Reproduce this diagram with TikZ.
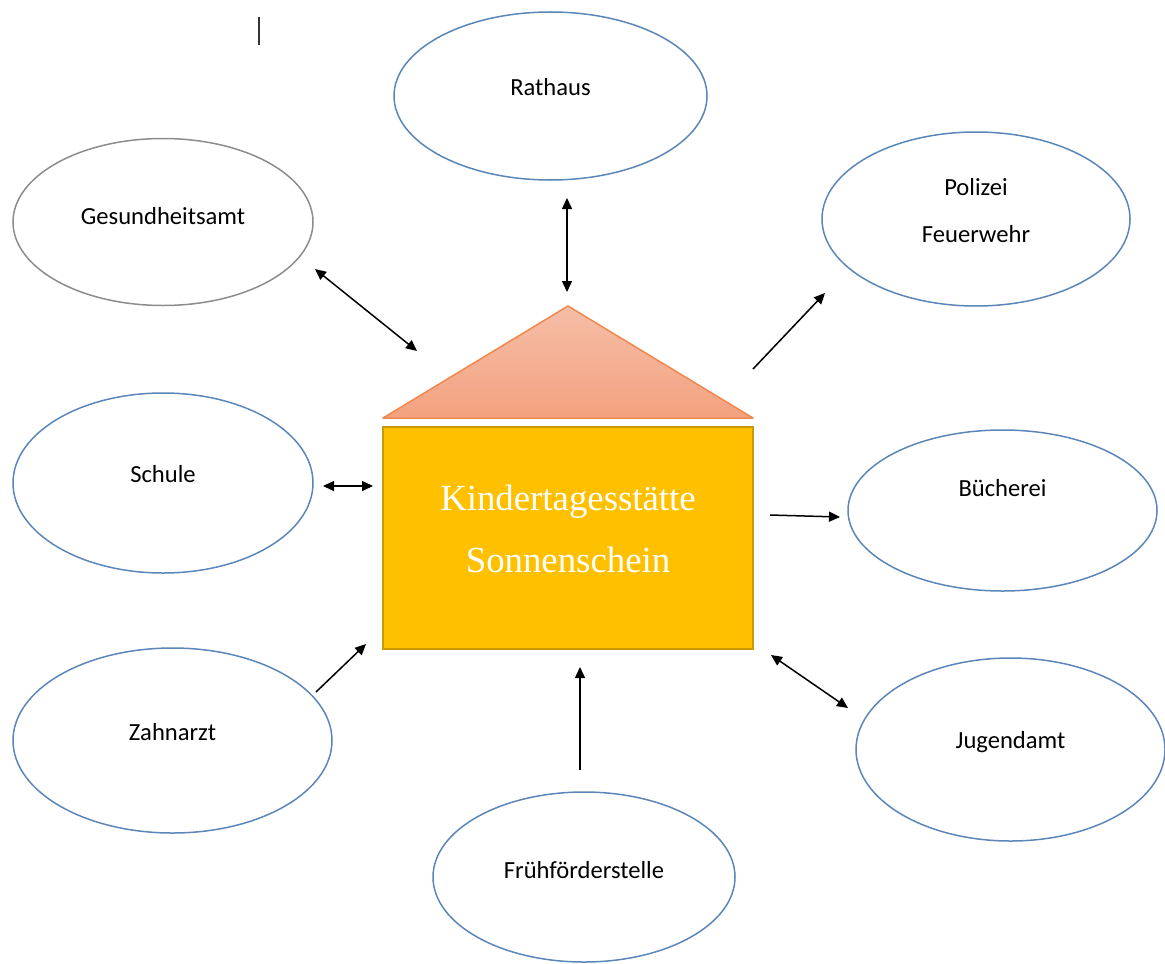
\documentclass[tikz,border=0pt]{standalone}
\usepackage{fontspec}
\usetikzlibrary{calc, positioning}
\usetikzlibrary{arrows.meta}
\usetikzlibrary{shapes.geometric}
\newfontfamily\placefont{Carlito}
\newfontfamily\kitafont{Liberation Serif}
\definecolor{placeblue}{HTML}{5B86B9}
\definecolor{placegray}{HTML}{8C8C8C}
\definecolor{kitafill}{HTML}{FFC000}
\definecolor{kitaline}{HTML}{C99A06}
\definecolor{roofhigh}{HTML}{F5BEA6}
\definecolor{rooflow}{HTML}{F4A280}
\definecolor{roofline}{HTML}{F0884E}
\tikzset{
    place/.style n args = {2}{
        ellipse, draw=placeblue, line width=0.75pt, minimum width=#1, minimum height=#2, inner sep=0pt
    },
    placetext/.style = {
        font=\placefont\fontsize{12.3}{23.5}\selectfont, align=center, inner sep=0pt
    },
    kitabox/.style = {
        rectangle, fill=kitafill, draw=kitaline, line width=0.6pt, minimum width=185pt, minimum height=111pt, inner sep=0pt
    },
    kitatext/.style = {
        font=\kitafont\fontsize{18.4}{31}\selectfont, text=white, align=center, inner sep=0pt
    },
    link/.style = {line width=0.75pt, draw=black}
}

\begin{document}
\begin{tikzpicture}[x=0.5pt, y=-0.5pt, >={Triangle[length=5.5pt,width=5pt]}]
    \useasboundingbox (0,0) rectangle (1165,963);
    % the house
    \coordinate (roof-l) at (383,418);
    \coordinate (roof-t) at (568,306);
    \coordinate (roof-r) at (753,418);
    \shadedraw[top color=roofhigh, bottom color=rooflow, draw=roofline, line width=0.75pt, line join=round]
        (roof-l) -- (roof-t) -- (roof-r) -- cycle;
    \node[kitabox] (kita) at (568,538) {};
    \node[kitatext] (kita-name) at ([yshift=4.75pt]kita.center) {Kindertagesstätte\\Sonnenschein};

    % the places around it
    \node[place={156.5pt}{84pt}] (rathaus) at (550.5,96) {};
    \node[placetext] (rathaus-text) at ([yshift=4.5pt]rathaus.center) {Rathaus};
    \node[place={150pt}{83.5pt}, draw=placegray] (gesund) at (163,222) {};
    \node[placetext] (gesund-text) at ([yshift=3pt]gesund.center) {Gesundheitsamt};
    \node[place={154pt}{87pt}] (polizei) at (976,219) {};
    \node[placetext] (polizei-text) at ([yshift=4pt]polizei.center) {Polizei\\Feuerwehr};
    \node[place={150pt}{90pt}] (schule) at (163,483) {};
    \node[placetext] (schule-text) at ([yshift=4.5pt]schule.center) {Schule};
    \node[place={154.5pt}{80.5pt}] (buecherei) at (1002.5,510.5) {};
    \node[placetext] (buecherei-text) at ([yshift=11pt]buecherei.center) {Bücherei};
    \node[place={159.5pt}{92.5pt}] (zahnarzt) at (172.5,740.5) {};
    \node[placetext] (zahnarzt-text) at ([yshift=4pt]zahnarzt.center) {Zahnarzt};
    \node[place={154.5pt}{91.5pt}] (jugendamt) at (1010.5,749.5) {};
    \node[placetext] (jugendamt-text) at ([yshift=3.5pt]jugendamt.center) {Jugendamt};
    \node[place={151pt}{85pt}] (frueh) at (584,877) {};
    \node[placetext] (frueh-text) at ([yshift=3.5pt]frueh.center) {Frühförderstelle};

    % arrow ends
    \coordinate (rathaus-a) at (567,198);
    \coordinate (rathaus-b) at (567,292);
    \coordinate (gesund-a) at (315,269);
    \coordinate (gesund-b) at (417,351);
    \coordinate (polizei-a) at (753,369);
    \coordinate (polizei-b) at (825,293);
    \coordinate (schule-a) at (323,486);
    \coordinate (schule-b) at (373,486);
    \coordinate (buecherei-a) at (770,515);
    \coordinate (buecherei-b) at (840,517);
    \coordinate (zahnarzt-a) at (316,692);
    \coordinate (zahnarzt-b) at (366,644);
    \coordinate (jugendamt-a) at (771,655);
    \coordinate (jugendamt-b) at (848,708);
    \coordinate (frueh-a) at (580,770);
    \coordinate (frueh-b) at (580,667);

    \draw[link, <->] (rathaus-a) -- (rathaus-b);
    \draw[link, <->] (gesund-a) -- (gesund-b);
    \draw[link, ->] (polizei-a) -- (polizei-b);
    \draw[link, <->] (schule-a) -- (schule-b);
    \draw[link, ->] (buecherei-a) -- (buecherei-b);
    \draw[link, ->] (zahnarzt-a) -- (zahnarzt-b);
    \draw[link, <->] (jugendamt-a) -- (jugendamt-b);
    \draw[link, ->] (frueh-a) -- (frueh-b);

    % text cursor
    \draw[line width=1pt, black!80] (259,17) -- (259,45);
\end{tikzpicture}
\end{document}
